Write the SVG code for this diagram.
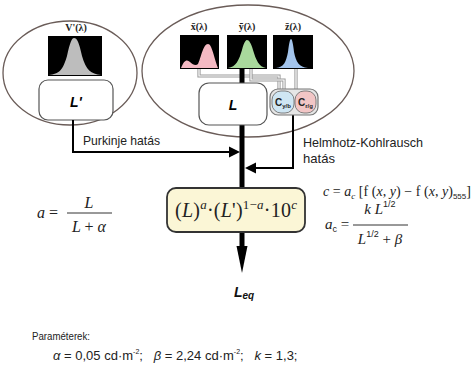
<svg xmlns="http://www.w3.org/2000/svg" width="473" height="366" viewBox="0 0 473 366">
<style>
.ell{fill:none;stroke:#6a5c58;stroke-width:1.3}
.blk{fill:#000}
.box{fill:#fff;stroke:#555;stroke-width:1.2}
.lab{font-family:"Liberation Sans",Arial,sans-serif;font-size:13px;fill:#222}
.spec{font-family:"Liberation Serif",serif;font-size:10px;font-weight:bold;fill:#222}
.math{font-family:"Liberation Serif",serif;font-style:italic;fill:#222}
.rm{font-style:normal}
.gray2{fill:none;stroke:#9a9a9a;stroke-width:3.2}
.gray1{fill:none;stroke:#fff;stroke-width:1.2}
.thin{fill:none;stroke:#000;stroke-width:2}
.thick{fill:none;stroke:#000;stroke-width:5}
</style>
<rect width="473" height="366" fill="#fff"/>
<g id="left-group">
<ellipse class="ell" cx="70" cy="73" rx="67" ry="52"/>
<text class="spec" x="76" y="31" text-anchor="middle">V'(λ)</text>
<rect class="blk" x="48" y="36" width="54" height="40"/>
<path d="M49,75 C59,74 63,70 67,56 C70,42 72,38 74,38 C77,38 79,42 82,56 C86,70 91,74 101,75 Z" fill="#bdbdbd"/>
</g>
<g id="node-Lprime">
<rect class="box" x="39" y="80" width="74" height="40" rx="9"/>
<text x="76" y="107" text-anchor="middle" font-family="'Liberation Sans',Arial,sans-serif" font-size="14" font-weight="bold" font-style="italic">L'</text>
</g>
<g id="right-group">
<ellipse class="ell" cx="248" cy="71" rx="106" ry="66"/>
<text class="spec" x="199" y="30" text-anchor="middle">x̄(λ)</text>
<text class="spec" x="247" y="30" text-anchor="middle">ȳ(λ)</text>
<text class="spec" x="293" y="30" text-anchor="middle">z̄(λ)</text>
<rect class="blk" x="180" y="35" width="39" height="34"/>
<path d="M181,68 C184,60 187,59 190,62 C193,65 196,66 198,64 C201,58 203,44 208,44 C212,44 214,58 218,68 Z" fill="#f4b9c3"/>
<rect class="blk" x="227" y="35" width="40" height="34"/>
<path d="M228,68 C236,67 239,60 242,50 C244,42 246,40 247,40 C249,40 251,43 253,50 C256,60 259,67 266,68 Z" fill="#a9d99c"/>
<rect class="blk" x="273" y="35" width="40" height="34"/>
<path d="M276,68 C284,67 286,62 288,52 C289,43 290,39 291,39 C292,39 293,43 294,52 C296,62 299,67 308,68 Z" fill="#a3c4ec"/>
</g>
<g id="connectors">
<path class="gray2" d="M199,69 V76 H279 V89"/>
<path class="gray1" d="M199,69 V76 H279 V89"/>
<path class="gray2" d="M251,69 V80 H284 V89"/>
<path class="gray1" d="M251,69 V80 H284 V89"/>
<path class="gray2" d="M296,69 V89"/>
<path class="gray1" d="M296,69 V89"/>
<path class="thick" d="M242,69 V83"/>
<path class="thick" d="M242,125 V188"/>
<path class="thick" d="M242,232 V248"/>
<polygon points="236.5,246 247.5,246 242,273" fill="#000"/>
<path class="thin" d="M73,120 V152 H232"/>
<polygon points="229,146.5 240,152 229,157.5" fill="#000"/>
<path class="thin" d="M293,115 V168 H255"/>
<polygon points="256,162.5 245,168 256,173.5" fill="#000"/>
</g>
<g id="node-L">
<rect class="box" x="199" y="83" width="68" height="42" rx="10"/>
<text x="233" y="110" text-anchor="middle" font-family="'Liberation Sans',Arial,sans-serif" font-size="14" font-weight="bold" font-style="italic">L</text>
</g>
<g id="node-C">
<rect x="270" y="89" width="48" height="26" rx="8" fill="#e6e6e6" stroke="#777" stroke-width="1.2"/>
<rect x="272" y="91" width="22" height="22" rx="9" fill="#cfe6f3" stroke="#666" stroke-width="0.8"/>
<rect x="295" y="91" width="21" height="22" rx="9" fill="#f2c6c6" stroke="#666" stroke-width="0.8"/>
<text x="283" y="105.5" text-anchor="middle" font-family="'Liberation Sans',Arial,sans-serif" font-size="10" font-weight="bold" fill="#222">C<tspan font-size="6" dy="2">y/b</tspan></text>
<text x="305.5" y="105.5" text-anchor="middle" font-family="'Liberation Sans',Arial,sans-serif" font-size="10" font-weight="bold" fill="#222">C<tspan font-size="6" dy="2">r/g</tspan></text>
</g>
<g id="labels">
<text class="lab" x="83" y="145" textLength="77" lengthAdjust="spacingAndGlyphs">Purkinje hatás</text>
<text class="lab" x="303" y="147" textLength="120" lengthAdjust="spacingAndGlyphs">Helmhotz-Kohlrausch</text>
<text class="lab" x="303" y="163" textLength="32" lengthAdjust="spacingAndGlyphs">hatás</text>
</g>
<g id="node-formula">
<rect x="167" y="188" width="138" height="44" rx="9" fill="#fbf6d6" stroke="#333" stroke-width="1.8"/>
<text class="math" x="175" y="217" font-size="20" textLength="122"><tspan class="rm">(</tspan>L<tspan class="rm">)</tspan><tspan font-size="13" dy="-8">a</tspan><tspan class="rm" dy="8">·(</tspan>L<tspan class="rm">')</tspan><tspan font-size="13" dy="-8"><tspan class="rm">1−</tspan>a</tspan><tspan class="rm" dy="8">·10</tspan><tspan font-size="13" dy="-8">c</tspan></text>
</g>
<g id="node-Leq">
<text x="234" y="297" font-family="'Liberation Sans',Arial,sans-serif" font-size="14" font-weight="bold" font-style="italic" fill="#111">L<tspan font-size="10" dy="2">eq</tspan></text>
</g>
<g id="formula-a">
<text class="math" x="37" y="218" font-size="16">a <tspan class="rm">=</tspan></text>
<line x1="67" y1="213" x2="112" y2="213" stroke="#333" stroke-width="1"/>
<text class="math" x="89" y="208" font-size="16" text-anchor="middle">L</text>
<text class="math" x="89" y="232" font-size="16" text-anchor="middle">L <tspan class="rm">+</tspan> α</text>
</g>
<g id="formula-c">
<text class="math" x="323" y="196" font-size="14" textLength="148"><tspan>c </tspan><tspan class="rm">=</tspan> a<tspan font-size="9" dy="3">c</tspan><tspan class="rm" dy="-3"> [f (</tspan>x<tspan class="rm">, </tspan>y<tspan class="rm">) − f (</tspan>x<tspan class="rm">, </tspan>y<tspan class="rm">)</tspan><tspan class="rm" font-family="'Liberation Sans',Arial,sans-serif" font-size="8" dy="3">555</tspan><tspan class="rm" dy="-3">]</tspan></text>
<text class="math" x="325" y="229" font-size="15">a<tspan font-family="'Liberation Sans',Arial,sans-serif" font-style="normal" font-size="9" dy="3">c</tspan><tspan class="rm" dy="-3"> =</tspan></text>
<line x1="353" y1="225" x2="408" y2="225" stroke="#333" stroke-width="1"/>
<text class="math" x="380" y="214" font-size="15" text-anchor="middle">k L<tspan font-family="'Liberation Sans',Arial,sans-serif" font-style="normal" font-size="9" dy="-7">1/2</tspan></text>
<text class="math" x="380" y="244" font-size="15" text-anchor="middle">L<tspan font-family="'Liberation Sans',Arial,sans-serif" font-style="normal" font-size="9" dy="-7">1/2</tspan><tspan class="rm" dy="7"> + </tspan>β</text>
</g>
<g id="params">
<text x="32" y="340" font-family="'Liberation Sans',Arial,sans-serif" font-size="10" fill="#222" textLength="58" lengthAdjust="spacingAndGlyphs">Paraméterek:</text>
<text x="53" y="360" font-family="'Liberation Sans',Arial,sans-serif" font-size="13" fill="#222"><tspan font-style="italic">α</tspan> = 0,05 cd·m<tspan font-size="7" dy="-6">-2</tspan><tspan dy="6">;&#160;&#160;&#160;</tspan><tspan font-style="italic">β</tspan> = 2,24 cd·m<tspan font-size="7" dy="-6">-2</tspan><tspan dy="6">;&#160;&#160;&#160;</tspan><tspan font-style="italic">k</tspan> = 1,3;</text>
</g>
</svg>
